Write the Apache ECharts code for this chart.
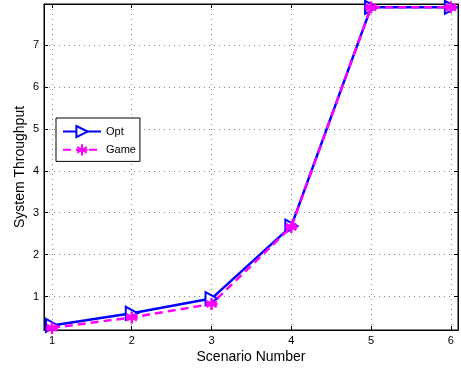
<!DOCTYPE html>
<html>
<head>
<meta charset="utf-8">
<script src="https://cdn.jsdelivr.net/npm/echarts@6/dist/echarts.min.js"></script>
<style>
  html, body { margin: 0; padding: 0; background: #fff; }
  #chart { width: 461px; height: 369px; }
</style>
</head>
<body>
<div id="chart"></div>
<script>
  // scenario numbers and throughput values
  let scenarios = [1, 2, 3, 4, 5, 6];
  let optValues = [0.31, 0.6, 0.95, 2.68, 7.9, 7.9];
  let gameValues = [0.25, 0.5, 0.82, 2.66, 7.9, 7.9];
  let yTicks = [1, 2, 3, 4, 5, 6, 7];

  let asterisk = 'path://M0,-10 L0,10 M-8.66,-5 L8.66,5 M-8.66,5 L8.66,-5 M-10,0 L10,0';
  let triRight = 'path://M0,0 L18,10 L0,20 Z';
  let font = 'Liberation Sans';

  let dotted = { show: true, lineStyle: { color: '#888', type: [1, 4], width: 1 } };

  let option = {
    animation: false,
    textStyle: { fontFamily: font },
    grid: {
      left: 44, right: 3, top: 4, bottom: 38,
      show: true, borderColor: '#000', borderWidth: 1
    },
    legend: {
      left: 56, top: 118,
      orient: 'vertical',
      itemWidth: 38, itemHeight: 14, itemGap: 5,
      padding: [7, 4, 5, 6],
      borderColor: '#000', borderWidth: 1,
      backgroundColor: '#fff',
      textStyle: { fontFamily: font, fontSize: 11, color: '#000' },
      data: ['Opt', 'Game']
    },
    xAxis: [
      {
        type: 'value', min: 0.9, max: 6.09, interval: 1,
        name: 'Scenario Number', nameLocation: 'middle', nameGap: 20,
        nameMoveOverlap: false,
        nameTextStyle: { fontFamily: font, fontSize: 14, color: '#000' },
        axisLine: { show: true, lineStyle: { color: '#000' } },
        axisTick: { inside: true, length: 4, lineStyle: { color: '#000' },
          customValues: scenarios },
        axisLabel: { fontFamily: font, fontSize: 11, color: '#000', margin: 5,
          customValues: scenarios },
        splitLine: Object.assign({}, dotted, { customValues: scenarios })
      },
      {
        type: 'value', position: 'top', min: 0.9, max: 6.09,
        axisLine: { show: true, lineStyle: { color: '#000' } },
        axisTick: { inside: true, length: 4, lineStyle: { color: '#000' }, customValues: scenarios },
        axisLabel: { show: false },
        splitLine: { show: false }
      }
    ],
    yAxis: [
      {
        type: 'value', min: 0.2, max: 7.98,
        name: 'System Throughput', nameLocation: 'middle', nameGap: 17,
        nameMoveOverlap: false,
        nameTextStyle: { fontFamily: font, fontSize: 14, color: '#000' },
        axisLine: { show: true, lineStyle: { color: '#000' } },
        axisTick: { inside: true, length: 4, lineStyle: { color: '#000' }, customValues: yTicks },
        axisLabel: { fontFamily: font, fontSize: 11, color: '#000', margin: 5, customValues: yTicks },
        splitLine: Object.assign({}, dotted, { customValues: yTicks })
      },
      {
        type: 'value', position: 'right', min: 0.2, max: 7.98,
        axisLine: { show: true, lineStyle: { color: '#000' } },
        axisTick: { inside: true, length: 4, lineStyle: { color: '#000' }, customValues: yTicks },
        axisLabel: { show: false },
        splitLine: { show: false }
      }
    ],
    series: [
      {
        name: 'Opt',
        type: 'line',
        data: scenarios.map((s, i) => [s, optValues[i]]),
        symbol: triRight,
        symbolSize: [12, 13],
        showAllSymbol: true,
        lineStyle: { color: '#0000ff', width: 2.5 },
        itemStyle: { color: '#fff', borderColor: '#0000ff', borderWidth: 2 },
        z: 2
      },
      {
        name: 'Game',
        type: 'line',
        data: scenarios.map((s, i) => [s, gameValues[i]]),
        symbol: asterisk,
        symbolSize: 12,
        showAllSymbol: true,
        lineStyle: { color: '#ff00ff', width: 2.5, type: [8, 5] },
        itemStyle: { color: '#ff00ff', borderColor: '#ff00ff', borderWidth: 2.5 },
        z: 3
      }
    ]
  };

  var myChart = echarts.init(document.getElementById('chart'));
  myChart.setOption(option);
</script>
</body>
</html>
